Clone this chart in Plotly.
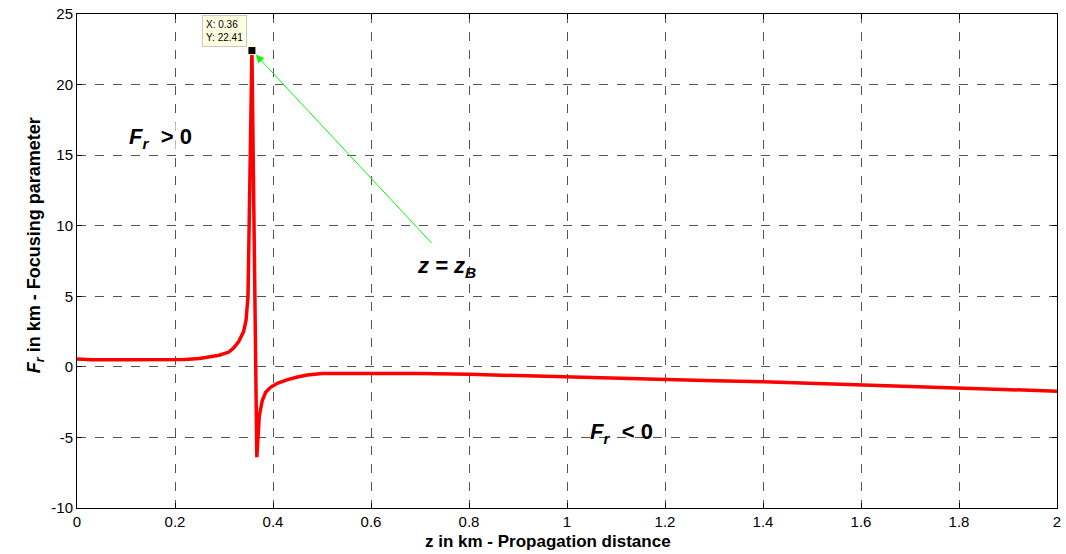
import plotly.graph_objects as go

# ---- data ----
z_km = [0, 0.03, 0.1, 0.2, 0.22, 0.25, 0.27, 0.29, 0.31, 0.32, 0.33, 0.34, 0.345,
        0.349, 0.357, 0.367, 0.372, 0.378, 0.385, 0.395, 0.41, 0.43, 0.45, 0.47,
        0.5, 0.6, 0.7, 0.8, 0.9, 1.0, 1.1, 1.2, 1.3, 1.4, 1.5, 1.6, 1.7, 1.8, 1.9, 2.0]
Fr_km = [0.55, 0.5, 0.5, 0.5, 0.52, 0.6, 0.68, 0.82, 1.05, 1.35, 1.8, 2.5, 3.3,
         5.0, 22.41, -6.4, -3.5, -2.4, -1.8, -1.45, -1.15, -0.9, -0.72, -0.58,
         -0.47, -0.45, -0.47, -0.53, -0.63, -0.72, -0.82, -0.92, -0.98, -1.06,
         -1.17, -1.28, -1.38, -1.49, -1.6, -1.72]

peak_x = 0.357
peak_y = 22.41

x_ticks = [0, 0.2, 0.4, 0.6, 0.8, 1.0, 1.2, 1.4, 1.6, 1.8, 2.0]
x_tick_labels = ["0", "0.2", "0.4", "0.6", "0.8", "1", "1.2", "1.4", "1.6", "1.8", "2"]
y_ticks = [-10, -5, 0, 5, 10, 15, 20, 25]
y_tick_labels = ["-10", "-5", "0", "5", "10", "15", "20", "25"]

arrow_tail = (0.7265, 8.67)
label_zB = (0.755, 7.1)
label_pos = (0.17, 16.25)
label_neg = (1.112, -4.7)

W, H = 1066, 554
L, R, T, B = 77, 9, 14, 46

fig = go.Figure()
fig.add_trace(go.Scatter(x=z_km, y=Fr_km, mode="lines",
                         line=dict(color="#ff0000", width=3.5),
                         showlegend=False, hoverinfo="skip"))
fig.add_trace(go.Scatter(x=[peak_x], y=[peak_y], mode="markers",
                         marker=dict(symbol="square", size=8, color="black",
                                     line=dict(color="#ffffc8", width=1)),
                         showlegend=False, hoverinfo="skip"))

font_main = "Liberation Sans, Arial, sans-serif"

axis_common = dict(showline=True, linecolor="black", linewidth=1, mirror="ticks",
                   ticks="inside", ticklen=5, tickcolor="black",
                   showgrid=True, gridcolor="#555555", gridwidth=1, griddash="dash",
                   zeroline=False, automargin=False)

fig.update_xaxes(range=[0, 2], tickvals=x_ticks, ticktext=x_tick_labels,
                 tickfont=dict(family=font_main, size=15, color="black"),
                 **axis_common)
fig.update_yaxes(range=[-10, 25], tickvals=y_ticks, ticktext=y_tick_labels,
                 tickfont=dict(family=font_main, size=15, color="black"),
                 **axis_common)

ann = []
# axis titles
ann.append(dict(xref="paper", yref="paper", x=0.5, xshift=-19, y=0, yshift=-(B - 1),
                xanchor="center", yanchor="bottom", showarrow=False,
                text="<b>z in km - Propagation distance</b>",
                font=dict(family=font_main, size=17, color="black")))
ann.append(dict(xref="paper", yref="paper", x=0, xshift=-42, y=0.532,
                xanchor="center", yanchor="middle", showarrow=False, textangle=-90,
                text="<b><i>F</i><sub><i>r</i></sub> in km - Focusing parameter</b>",
                font=dict(family=font_main, size=18, color="black")))
# green arrow
ann.append(dict(x=peak_x + 0.008, y=peak_y - 0.3, ax=arrow_tail[0], ay=arrow_tail[1],
                xref="x", yref="y", axref="x", ayref="y", text="", showarrow=True,
                arrowhead=2, arrowsize=1.6, arrowwidth=1, arrowcolor="#00ff00"))
# labels
ann.append(dict(x=label_pos[0], y=label_pos[1], xref="x", yref="y", showarrow=False,
                text="<b><i>F</i><sub><i>r</i></sub>  > 0</b>",
                bgcolor="rgba(255,255,255,0.6)",
                font=dict(family=font_main, size=22, color="black")))
ann.append(dict(x=label_zB[0], y=label_zB[1], xref="x", yref="y", showarrow=False,
                text="<b><i>z = z<sub>B</sub></i></b>",
                font=dict(family=font_main, size=22, color="black")))
ann.append(dict(x=label_neg[0], y=label_neg[1], xref="x", yref="y", showarrow=False,
                text="<b><i>F</i><sub><i>r</i></sub>  < 0</b>",
                font=dict(family=font_main, size=22, color="black")))
# data tip
ann.append(dict(x=peak_x, y=peak_y, xref="x", yref="y", showarrow=False,
                xanchor="right", yanchor="bottom", xshift=-5, yshift=4,
                align="left", text=f"X: {peak_x:.2f}<br>Y: {peak_y:.2f}",
                bgcolor="#ffffe1", bordercolor="#c8c8c8", borderwidth=1, borderpad=3,
                font=dict(family=font_main, size=10, color="black")))

fig.update_layout(width=W, height=H, margin=dict(l=L, r=R, t=T, b=B),
                  plot_bgcolor="white", paper_bgcolor="white",
                  annotations=ann, showlegend=False)

fig.write_html("out.html")
